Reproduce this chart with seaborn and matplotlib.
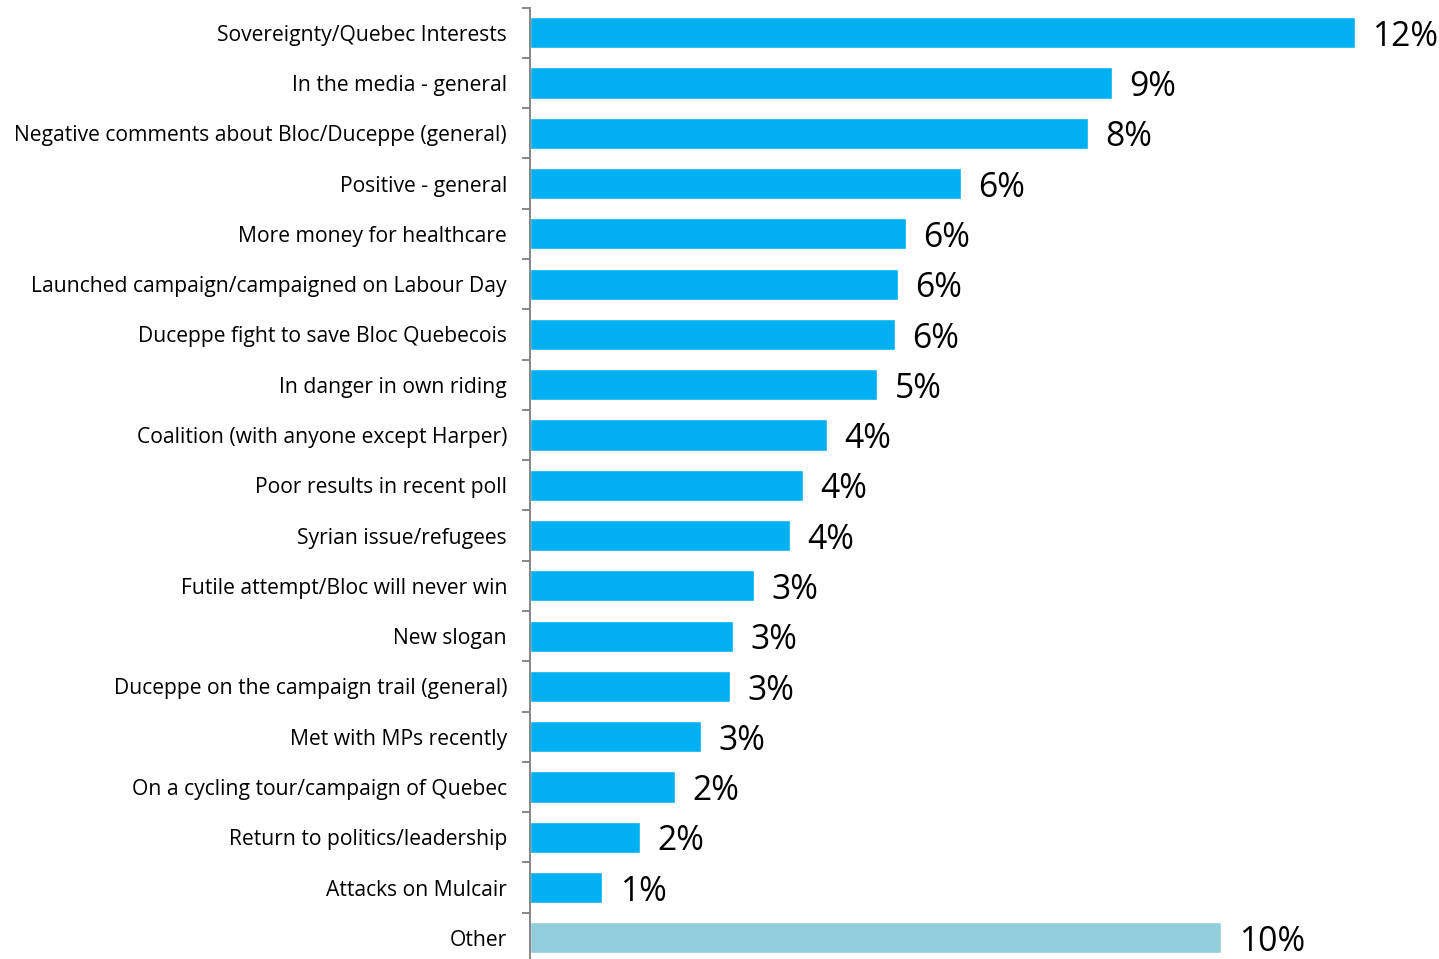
import matplotlib
matplotlib.use("Agg")
import matplotlib.pyplot as plt
import seaborn as sns
import pandas as pd
import numpy as np

categories = [
    "Sovereignty/Quebec Interests",
    "In the media - general",
    "Negative comments about Bloc/Duceppe (general)",
    "Positive - general",
    "More money for healthcare",
    "Launched campaign/campaigned on Labour Day",
    "Duceppe fight to save Bloc Quebecois",
    "In danger in own riding",
    "Coalition (with anyone except Harper)",
    "Poor results in recent poll",
    "Syrian issue/refugees",
    "Futile attempt/Bloc will never win",
    "New slogan",
    "Duceppe on the campaign trail (general)",
    "Met with MPs recently",
    "On a cycling tour/campaign of Quebec",
    "Return to politics/leadership",
    "Attacks on Mulcair",
    "Other",
]
values = [12.43, 8.77, 8.41, 6.49, 5.67, 5.55, 5.50, 5.23, 4.48, 4.11, 3.92,
          3.38, 3.06, 3.01, 2.58, 2.19, 1.66, 1.09, 10.42]
value_labels = ["12%", "9%", "8%", "6%", "6%", "6%", "6%", "5%", "4%", "4%", "4%",
                "3%", "3%", "3%", "3%", "2%", "2%", "1%", "10%"]
colors = ["#00B0F0"] * 18 + ["#92CDDC"]

df = pd.DataFrame({"category": categories, "value": values})

sns.set_style("white")
plt.rcParams["font.family"] = ["Open Sans", "DejaVu Sans"]

fig = plt.figure(figsize=(14.39, 9.59), dpi=100)
ax = fig.add_axes([530 / 1439, 1 - 963 / 959, 909 / 1439, 955.4 / 959])

sns.barplot(data=df, y="category", x="value", hue="category", palette=colors,
            legend=False, orient="h", width=0.62, ax=ax, saturation=1)

ax.set_xlim(0, 909 / 66.35)
ax.set_ylim(len(categories) - 0.5, -0.5)
ax.set_xlabel("")
ax.set_ylabel("")
ax.set_xticks([])

for s in ["top", "right", "bottom"]:
    ax.spines[s].set_visible(False)
ax.spines["left"].set_color("#868686")
ax.spines["left"].set_linewidth(1.4)

ax.tick_params(axis="y", which="major", left=True, length=0, pad=16.5,
               labelsize=15.2, labelcolor="#000000")
ax.set_yticks(np.arange(len(categories) + 1) - 0.5, minor=True)
ax.tick_params(axis="y", which="minor", left=True, length=5.8, width=1.4,
               color="#868686", direction="out")

for i, (v, lab) in enumerate(zip(values, value_labels)):
    ax.annotate(lab, xy=(v, i), xytext=(12.5, -3), textcoords="offset points",
                ha="left", va="center", fontsize=24.2, color="#000000")

fig.savefig("out.png", dpi=100)
